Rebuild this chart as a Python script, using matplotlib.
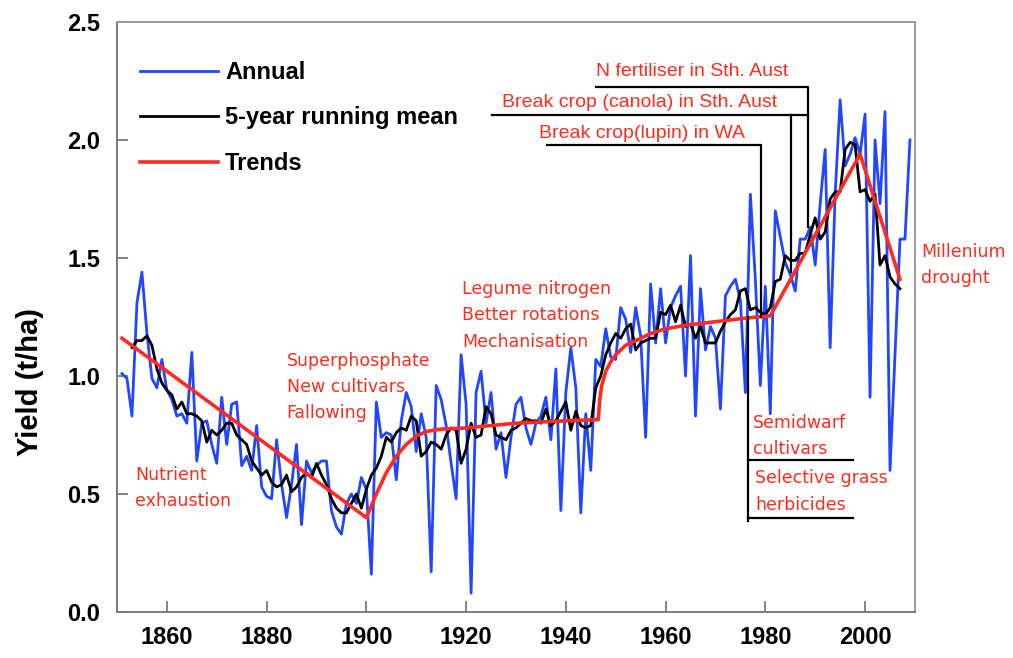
import matplotlib
matplotlib.use("Agg")
import matplotlib.pyplot as plt
from matplotlib import font_manager
import numpy as np

# ---- data ------------------------------------------------------------------
years = np.arange(1851, 2010)
annual = [
    1.01, 0.99, 0.83, 1.31, 1.44, 1.18, 0.99, 0.95, 1.07, 0.94,   # 1851-1860
    0.90, 0.83, 0.84, 0.80, 1.10, 0.64, 0.80, 0.81, 0.71, 0.63,   # 1861-1870
    0.91, 0.71, 0.88, 0.89, 0.62, 0.66, 0.60, 0.79, 0.53, 0.49,   # 1871-1880
    0.48, 0.73, 0.54, 0.40, 0.54, 0.71, 0.37, 0.64, 0.59, 0.62,   # 1881-1890
    0.64, 0.64, 0.43, 0.36, 0.33, 0.46, 0.50, 0.46, 0.57, 0.52,   # 1891-1900
    0.16, 0.89, 0.74, 0.76, 0.75, 0.56, 0.81, 0.93, 0.87, 0.68,   # 1901-1910
    0.84, 0.74, 0.17, 0.96, 0.90, 0.79, 0.63, 0.48, 1.09, 0.88,   # 1911-1920
    0.08, 0.93, 1.02, 0.80, 0.93, 0.69, 0.76, 0.57, 0.74, 0.88,   # 1921-1930
    0.91, 0.78, 0.71, 0.80, 0.83, 0.91, 0.73, 1.03, 0.43, 0.93,   # 1931-1940
    1.12, 0.95, 0.42, 0.84, 0.60, 1.07, 1.04, 1.20, 1.08, 1.07,   # 1941-1950
    1.29, 1.24, 1.10, 1.29, 1.17, 0.74, 1.39, 1.14, 1.37, 1.14,   # 1951-1960
    1.29, 1.34, 1.38, 1.00, 1.51, 0.83, 1.37, 1.11, 1.21, 1.16,   # 1961-1970
    0.86, 1.34, 1.38, 1.41, 1.32, 0.93, 1.77, 1.41, 0.96, 1.38,   # 1971-1980
    0.84, 1.70, 1.59, 1.48, 1.43, 1.36, 1.58, 1.58, 1.63, 1.47,   # 1981-1990
    1.73, 1.96, 1.12, 1.77, 2.17, 1.89, 1.94, 2.01, 1.94, 2.11,   # 1991-2000
    0.91, 2.00, 1.73, 2.12, 0.60, 1.09, 1.58, 1.58, 2.00,         # 2001-2009
]

mean_years = np.arange(1853, 2008)
running_mean = [
    1.12, 1.15, 1.15, 1.17, 1.13, 1.03, 0.97, 0.94,               # 1853-1860
    0.92, 0.86, 0.89, 0.84, 0.84, 0.83, 0.81, 0.72, 0.77, 0.75,   # 1861-1870
    0.77, 0.80, 0.80, 0.75, 0.73, 0.71, 0.64, 0.61, 0.58, 0.60,   # 1871-1880
    0.55, 0.53, 0.54, 0.58, 0.51, 0.53, 0.57, 0.59, 0.57, 0.63,   # 1881-1890
    0.58, 0.54, 0.48, 0.44, 0.42, 0.42, 0.46, 0.50, 0.44, 0.52,   # 1891-1900
    0.58, 0.61, 0.66, 0.74, 0.72, 0.76, 0.78, 0.77, 0.83, 0.81,   # 1901-1910
    0.66, 0.68, 0.72, 0.71, 0.69, 0.75, 0.78, 0.77, 0.63, 0.69,   # 1911-1920
    0.80, 0.74, 0.75, 0.87, 0.84, 0.75, 0.74, 0.73, 0.77, 0.78,   # 1921-1930
    0.80, 0.82, 0.81, 0.81, 0.80, 0.86, 0.79, 0.81, 0.85, 0.89,   # 1931-1940
    0.77, 0.85, 0.79, 0.78, 0.79, 0.95, 1.00, 1.09, 1.14, 1.18,   # 1941-1950
    1.16, 1.20, 1.22, 1.11, 1.14, 1.15, 1.16, 1.16, 1.27, 1.26,   # 1951-1960
    1.30, 1.23, 1.30, 1.21, 1.22, 1.16, 1.21, 1.14, 1.14, 1.14,   # 1961-1970
    1.19, 1.23, 1.26, 1.28, 1.36, 1.37, 1.28, 1.29, 1.27, 1.26,   # 1971-1980
    1.29, 1.40, 1.41, 1.51, 1.49, 1.49, 1.52, 1.52, 1.60, 1.67,   # 1981-1990
    1.58, 1.61, 1.75, 1.78, 1.78, 1.96, 1.99, 1.98, 1.78, 1.79,   # 1991-2000
    1.74, 1.77, 1.47, 1.51, 1.42, 1.39, 1.37,                     # 2001-2007
]

trend_years = [1851, 1900, 1902, 1904, 1906, 1908, 1910, 1912, 1915, 1920,
               1925, 1930, 1935, 1940, 1946.5, 1946.8, 1947.2, 1948, 1949,
               1950, 1952, 1954, 1957, 1960, 1964, 1968, 1972, 1976, 1981,
               1999, 2007]
trend_vals = [1.16, 0.40, 0.50, 0.59, 0.66, 0.71, 0.745, 0.765, 0.775, 0.78,
              0.79, 0.80, 0.805, 0.81, 0.815, 0.90, 0.96, 1.02, 1.06,
              1.09, 1.13, 1.15, 1.18, 1.20, 1.215, 1.225, 1.235, 1.245, 1.255,
              1.94, 1.41]

x_ticks = [1860, 1880, 1900, 1920, 1940, 1960, 1980, 2000]
y_ticks = [0.0, 0.5, 1.0, 1.5, 2.0, 2.5]

# ---- style -----------------------------------------------------------------
_BLUE = "#2046ff"
_RED = "#ff2a22"
_TXT_RED = "#ff2b1c"
_FRAME = "#7a7a7a"

_names = {f.name for f in font_manager.fontManager.ttflist}
NARROW = "Liberation Sans Narrow" if "Liberation Sans Narrow" in _names else "Liberation Sans"
WIDE = "DejaVu Sans"

fig = plt.figure(figsize=(10.13, 6.58), dpi=100, facecolor="white")
ax = fig.add_axes([0.1155, 0.0699, 0.7877, 0.8967])

ax.plot(years, annual, color=_BLUE, lw=2.0, label="Annual", zorder=2)
ax.plot(mean_years, running_mean, color="black", lw=2.0, label="5-year running mean", zorder=3)
ax.plot(trend_years, trend_vals, color=_RED, lw=2.6, label="Trends", zorder=4)

ax.set_xlim(1850, 2010)
ax.set_ylim(0, 2.5)
ax.set_xticks(x_ticks)
ax.set_yticks(y_ticks)
ax.set_xticklabels([str(t) for t in x_ticks])
ax.set_yticklabels([f"{t:.1f}" for t in y_ticks])
for lab in ax.get_xticklabels() + ax.get_yticklabels():
    lab.set_fontfamily(NARROW)
    lab.set_fontweight("bold")
    lab.set_fontsize(17)
ax.tick_params(axis="both", direction="in", length=8, width=1.3, color=_FRAME)
ax.tick_params(axis="x", pad=10)
ax.tick_params(axis="y", pad=12)
for side, sp in ax.spines.items():
    sp.set_color(_FRAME if side in ("left", "bottom") else "#9a9a9a")
    sp.set_linewidth(1.4)

fig.text(30 / 1013, 1 - 382 / 658, "Yield (t/ha)", rotation=90, ha="center", va="center",
         fontfamily="Liberation Sans", fontweight="bold", fontsize=21)

leg = ax.legend(loc="upper left", bbox_to_anchor=((140 - 117) / 798, (612 - 61) / 590),
                frameon=False, borderpad=0, borderaxespad=0, handlelength=3.3,
                handletextpad=0.3, labelspacing=0.95,
                prop={"family": NARROW, "weight": "bold", "size": 17})

# ---- annotation brackets -----------------------------------------------------
lk = dict(color="black", lw=1.6, clip_on=False, zorder=5)
ax.plot([1946, 1988.6, 1988.6], [2.225, 2.225, 1.63], **lk)
ax.plot([1925.2, 1988.6], [2.106, 2.106], **lk)
ax.plot([1985.2, 1985.2], [2.106, 1.44], **lk)
ax.plot([1936.2, 1979.2, 1979.2], [1.979, 1.979, 1.25], **lk)
ax.plot([1976.6, 1976.6], [1.25, 0.385], **lk)
ax.plot([1976.6, 1997.6], [0.644, 0.644], **lk)
ax.plot([1976.6, 1997.6], [0.40, 0.40], **lk)

tk = dict(color=_TXT_RED, fontfamily=WIDE, fontsize=12.5, ha="left", va="center",
          linespacing=1.6, zorder=6)
ax.text(1853.6, 0.525, "Nutrient\nexhaustion", **tk)
ax.text(1884.0, 0.953, "Superphosphate\nNew cultivars\nFallowing", **tk)
ax.text(1919.2, 1.258, "Legume nitrogen\nBetter rotations\nMechanisation", **tk)
ax.text(1977.6, 0.745, "Semidwarf\ncultivars", **tk)
ax.text(1978.0, 0.51, "Selective grass\nherbicides", **tk)
ax.text(2011.2, 1.47, "Millenium\ndrought", clip_on=False, **tk)

nk = dict(color=_TXT_RED, fontfamily=NARROW, fontsize=14, ha="left", va="center", zorder=6)
ax.text(1946.0, 2.29, "N fertiliser in Sth. Aust", **nk)
ax.text(1927.2, 2.16, "Break crop (canola) in Sth. Aust", **nk)
ax.text(1934.6, 2.027, "Break crop(lupin) in WA", **nk)

fig.savefig("out.png", dpi=100, facecolor="white")
